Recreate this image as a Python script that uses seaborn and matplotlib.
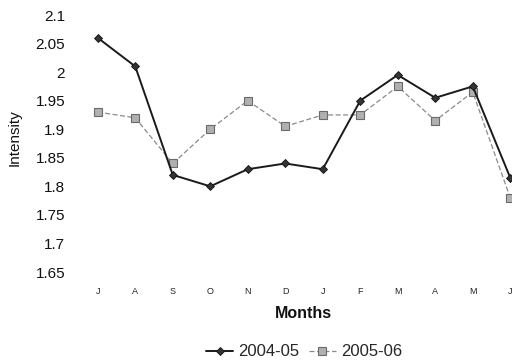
import matplotlib
matplotlib.use("Agg")
import matplotlib.pyplot as plt
import seaborn as sns
import pandas as pd

months = ["J", "A", "S", "O", "N", "D", "J", "F", "M", "A", "M", "J"]
s2004 = [2.06, 2.01, 1.82, 1.80, 1.83, 1.84, 1.83, 1.95, 1.995, 1.955, 1.975, 1.815]
s2005 = [1.93, 1.92, 1.84, 1.90, 1.95, 1.905, 1.925, 1.925, 1.975, 1.915, 1.965, 1.78]
series_names = ["2004-05", "2005-06"]
yticks = [1.65, 1.7, 1.75, 1.8, 1.85, 1.9, 1.95, 2.0, 2.05, 2.1]
ytick_labels = ["1.65", "1.7", "1.75", "1.8", "1.85", "1.9", "1.95", "2", "2.05", "2.1"]

sns.set_theme(style="white")
plt.rcParams["font.family"] = ["Liberation Sans", "DejaVu Sans"]

idx = list(range(len(months)))
df = pd.DataFrame({
    "pos": idx * 2,
    "Intensity": s2004 + s2005,
    "Series": [series_names[0]] * len(idx) + [series_names[1]] * len(idx),
})

fig = plt.figure(figsize=(5.12, 3.64), dpi=100)
ax = fig.add_axes([79 / 512, 92 / 364, 450 / 512, 257 / 364])

sns.lineplot(data=df[df.Series == series_names[1]], x="pos", y="Intensity", ax=ax,
             color="#8a8a8a", linewidth=0.9, linestyle=(0, (4, 2)),
             marker="s", markersize=6, markerfacecolor="#b0b0b0",
             markeredgecolor="#6a6a6a", markeredgewidth=0.8, label=series_names[1],
             legend=False)
sns.lineplot(data=df[df.Series == series_names[0]], x="pos", y="Intensity", ax=ax,
             color="#1a1a1a", linewidth=1.4,
             marker="D", markersize=4.5, markerfacecolor="#333333",
             markeredgecolor="#111111", markeredgewidth=0.6, label=series_names[0],
             legend=False)

ax.set_xlim(-0.5, len(months) - 0.5)
ax.set_ylim(1.65, 2.1)
ax.set_xticks(idx)
ax.set_xticklabels(months, fontsize=6.5, color="#222222")
ax.set_yticks(yticks)
ax.set_yticklabels(ytick_labels, fontsize=11, color="#111111")
ax.tick_params(axis="x", length=0, pad=11)
ax.tick_params(axis="y", length=0, pad=10)
for s in ax.spines.values():
    s.set_visible(False)
ax.grid(False)
ax.set_xlabel("")
ax.set_ylabel("")

fig.text(303 / 512, 1 - 314 / 364, "Months", ha="center", va="center",
         fontsize=11.5, fontweight="bold", color="#111111")
fig.text(15 / 512, 1 - 138 / 364, "Intensity", ha="center", va="center",
         rotation=90, fontsize=11, color="#111111")

handles, labels = ax.get_legend_handles_labels()
order = [labels.index(series_names[0]), labels.index(series_names[1])]
leg = fig.legend([handles[i] for i in order], [labels[i] for i in order],
                 loc="center", bbox_to_anchor=(304 / 512, 1 - 352 / 364),
                 ncol=2, frameon=False, fontsize=12, handlelength=1.6,
                 handletextpad=0.3, columnspacing=0.6)

fig.savefig("out.png", dpi=100)
